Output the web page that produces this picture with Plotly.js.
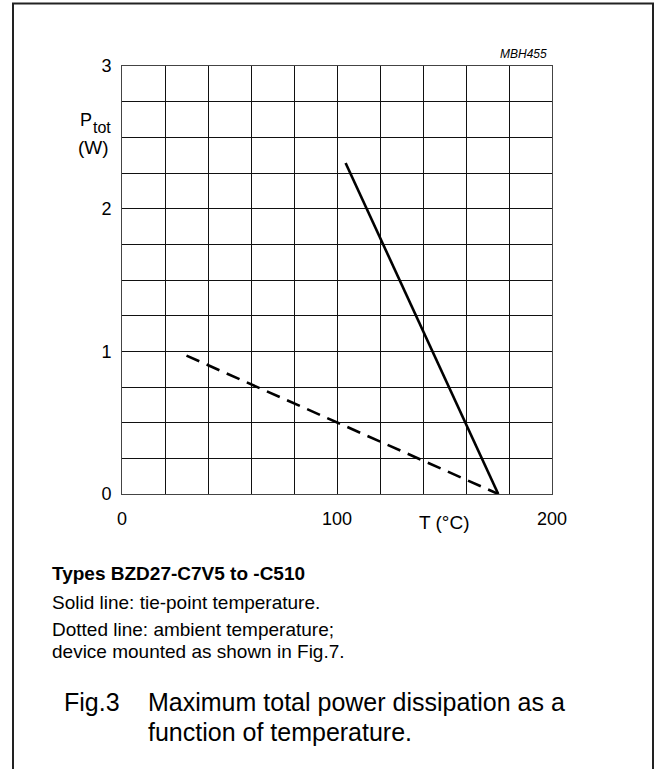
<!DOCTYPE html>
<html>
<head>
<meta charset="utf-8">
<script src="https://cdn.plot.ly/plotly-3.0.1.min.js"></script>
<style>html,body{margin:0;padding:0;background:#fff;}#chart{width:658px;height:769px;}</style>
</head>
<body>
<div id="chart"></div>
<script>
// Data
const solidT = [104, 175];
const solidP = [2.32, 0];
const dashedT = [30, 175];
const dashedP = [0.97, 0];
const xTickVals = [0, 20, 40, 60, 80, 100, 120, 140, 160, 180, 200];
const xTickText = ['0', '', '', '', '', '100', '', '', '', '', '200'];
const yTickVals = [0, 0.25, 0.5, 0.75, 1, 1.25, 1.5, 1.75, 2, 2.25, 2.5, 2.75, 3];
const yTickText = ['0', '', '', '', '1', '', '', '', '2', '', '', '', '3'];

const W = 658, H = 769;
const L = 122, R = 106, T = 66, B = 275;
const pw = W - L - R, ph = H - T - B;
const px = v => (v - L) / pw;
const py = v => (H - B - v) / ph;
const FONT = 'Arial, "Liberation Sans", sans-serif';

function ann(text, x, y, size, xanchor) {
  return {
    text: text, xref: 'paper', yref: 'paper', x: px(x), y: py(y),
    xanchor: xanchor || 'center', yanchor: 'middle', showarrow: false,
    font: {family: FONT, size: size, color: '#000'}
  };
}

const traces = [
  {x: solidT, y: solidP, mode: 'lines', line: {color: '#000', width: 2.6}, hoverinfo: 'skip'},
  {x: dashedT, y: dashedP, mode: 'lines', line: {color: '#000', width: 2.6, dash: '14px,8px'}, hoverinfo: 'skip'}
];

const layout = {
  width: W, height: H,
  margin: {l: L, r: R, t: T, b: B, pad: 0},
  paper_bgcolor: '#fff', plot_bgcolor: '#fff',
  showlegend: false,
  xaxis: {
    range: [0, 200], tickvals: xTickVals, ticktext: xTickText,
    showgrid: true, gridcolor: '#111', gridwidth: 1,
    showline: true, linecolor: '#444', linewidth: 1, mirror: true,
    zeroline: false, ticks: '', ticklabelstandoff: 8,
    tickfont: {family: FONT, size: 18, color: '#000'}
  },
  yaxis: {
    range: [0, 3], tickvals: yTickVals, ticktext: yTickText,
    showgrid: true, gridcolor: '#111', gridwidth: 1,
    showline: true, linecolor: '#444', linewidth: 1, mirror: true,
    zeroline: false, ticks: '', ticklabelstandoff: 6,
    tickfont: {family: FONT, size: 18, color: '#000'}
  },
  shapes: [{
    type: 'path', xref: 'paper', yref: 'paper',
    path: 'M ' + px(13) + ',' + py(800) + ' L ' + px(13) + ',' + py(3.5) + ' L ' + px(653) + ',' + py(3.5) + ' L ' + px(653) + ',' + py(800),
    line: {color: '#222', width: 2}
  }],
  annotations: [
    ann('<i>MBH455</i>', 549, 54, 12, 'right'),
    ann('P', 78, 120, 18, 'left'),
    ann('tot', 91, 127, 16, 'left'),
    ann('(W)', 93, 147, 19, 'center'),
    ann('T (°C)', 444, 522, 19, 'center'),
    ann('<b>Types BZD27-C7V5 to -C510</b>', 50, 573, 19, 'left'),
    ann('Solid line: tie-point temperature.', 50, 602, 19, 'left'),
    ann('Dotted line: ambient temperature;', 50, 629, 19, 'left'),
    ann('device mounted as shown in Fig.7.', 50, 651, 19, 'left'),
    ann('Fig.3', 62, 702, 25, 'left'),
    ann('Maximum total power dissipation as a', 146, 702, 25, 'left'),
    ann('function of temperature.', 146, 732, 25, 'left')
  ]
};

Plotly.newPlot('chart', traces, layout, {staticPlot: true, displayModeBar: false});
</script>
</body>
</html>
